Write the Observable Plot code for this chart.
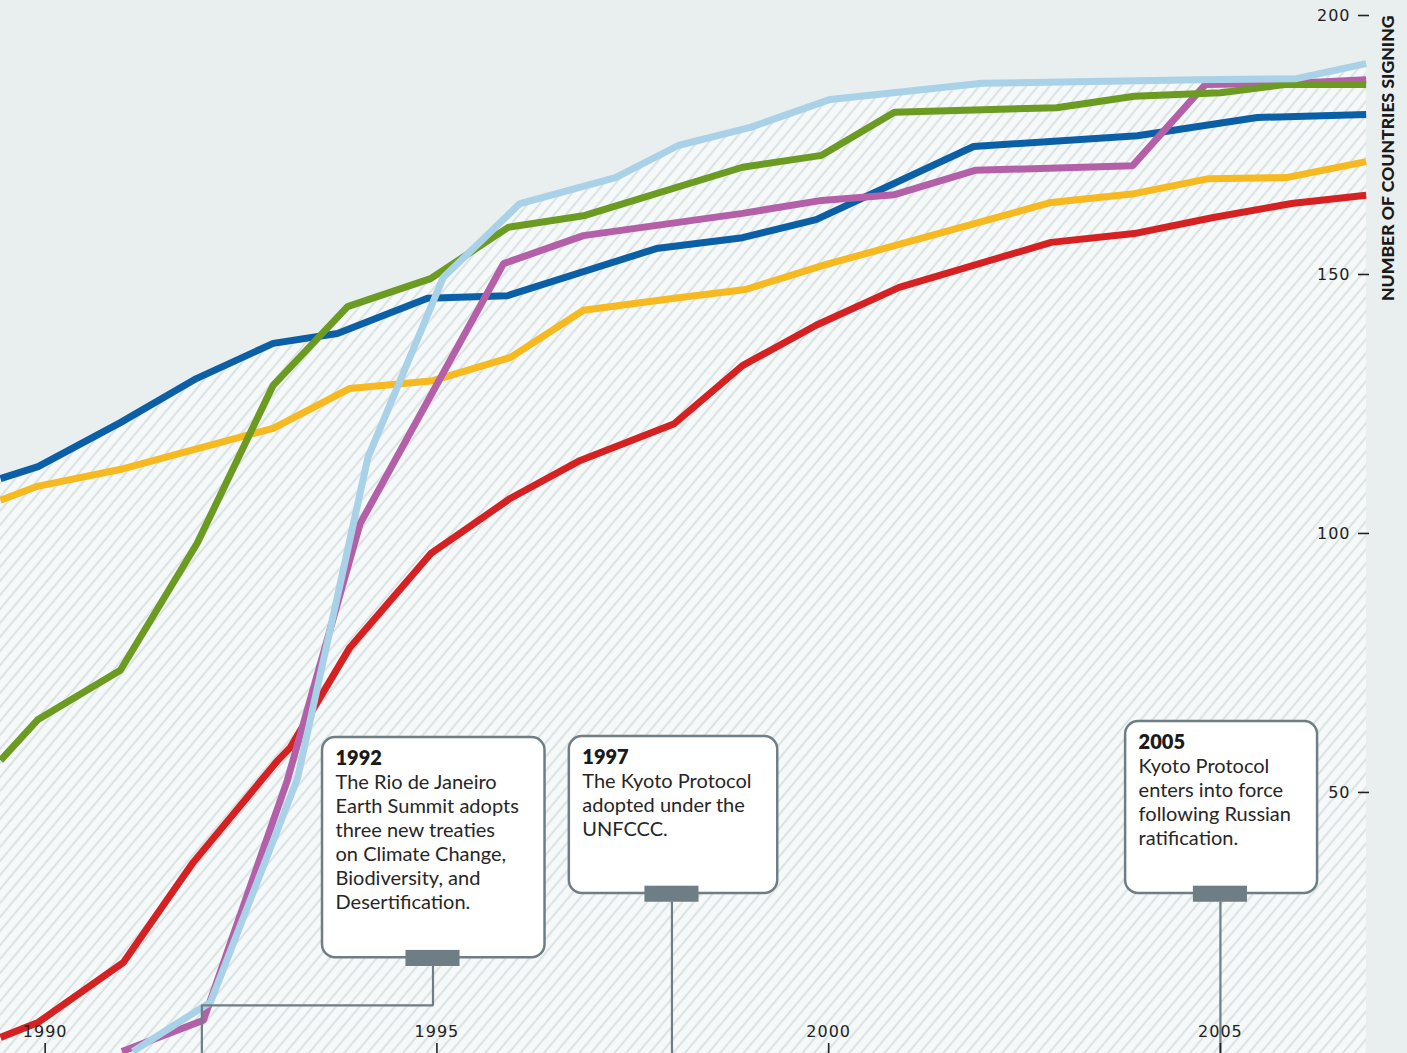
<!DOCTYPE html>
<html>
<head>
<meta charset="utf-8">
<script src="https://cdn.jsdelivr.net/npm/d3@7"></script>
<script src="https://cdn.jsdelivr.net/npm/@observablehq/plot@0.6"></script>
<style>
  html, body { margin: 0; padding: 0; background: #e9eeee; }
  #chart svg { display: block; }
</style>
</head>
<body>
<div id="chart"></div>
<script>
// ---------- data ----------
const xTicks = [1990, 1995, 2000, 2005];
const yTicks = [50, 100, 150, 200];
const yAxisLabel = "NUMBER OF COUNTRIES SIGNING";

const seriesNames  = ["Series A", "Series B", "Series C", "Series D", "Series E", "Series F"];
const seriesColors = ["#d52121", "#f6b920", "#0b5fa6", "#b460a8", "#6b9b21", "#a9d1e8"];

const seriesAYears = [1989.43, 1989.91, 1991.00, 1991.89, 1992.97, 1993.13, 1993.89, 1994.92, 1995.94, 1996.83, 1998.03, 1998.90, 1999.84, 2000.90, 2002.84, 2003.90, 2004.91, 2005.91, 2006.86];
const seriesAValues = [2.7, 5.6, 17.2, 36.5, 56.2, 58.7, 78.0, 96.1, 106.8, 114.1, 121.2, 132.4, 140.2, 147.5, 156.2, 157.9, 161.0, 163.7, 165.3];

const seriesBYears = [1989.43, 1989.90, 1991.00, 1992.91, 1993.89, 1994.95, 1995.94, 1996.87, 1998.03, 1998.94, 1999.96, 2002.84, 2003.90, 2004.85, 2005.84, 2006.86];
const seriesBValues = [106.4, 109.1, 112.5, 120.3, 128.0, 129.5, 134.0, 143.1, 145.4, 147.1, 151.9, 163.9, 165.6, 168.5, 168.7, 171.8];

const seriesCYears = [1989.43, 1989.91, 1990.96, 1991.93, 1992.91, 1993.73, 1994.88, 1995.90, 1997.80, 1998.90, 1999.84, 2001.85, 2003.94, 2005.47, 2006.86];
const seriesCValues = [110.6, 112.9, 121.4, 129.9, 136.7, 138.6, 145.4, 145.9, 155.0, 157.1, 160.6, 174.7, 176.8, 180.3, 180.9];

const seriesDYears = [1990.98, 1992.02, 1993.09, 1994.02, 1995.85, 1996.87, 1998.90, 1999.91, 2000.84, 2001.87, 2003.88, 2004.81, 2005.95, 2006.86];
const seriesDValues = [0, 6.0, 52.3, 101.9, 152.1, 157.5, 161.8, 164.3, 165.4, 170.1, 171.0, 186.7, 186.9, 187.6];

const seriesEYears = [1989.43, 1989.91, 1990.96, 1991.94, 1992.91, 1993.86, 1994.92, 1995.91, 1996.89, 1998.90, 1999.91, 2000.84, 2002.91, 2003.90, 2005.00, 2005.84, 2006.86];
const seriesEValues = [56.2, 64.1, 73.6, 98.1, 128.6, 143.8, 149.2, 159.1, 161.4, 170.7, 173.0, 181.3, 182.2, 184.4, 185.1, 186.7, 186.7];

const seriesFYears = [1991.12, 1992.11, 1993.22, 1994.12, 1995.08, 1996.06, 1997.28, 1998.08, 1999.00, 2000.02, 2001.96, 2004.72, 2005.97, 2006.86];
const seriesFValues = [0, 9.5, 52.7, 114.7, 149.4, 163.7, 168.7, 174.9, 178.4, 183.8, 186.9, 187.6, 187.8, 190.7];

const noteTitles = ["1992", "1997", "2005"];
const noteTexts = [
  "The Rio de Janeiro\nEarth Summit adopts\nthree new treaties\non Climate Change,\nBiodiversity, and\nDesertification.",
  "The Kyoto Protocol\nadopted under the\nUNFCCC.",
  "Kyoto Protocol\nenters into force\nfollowing Russian\nratification."
];
const noteEventYears = [1992.0, 1998.0, 2005.0];

// ---------- layout (annotation boxes, in data units) ----------
const xDomain = [1989.43, 2006.89];
const yDomain = [-0.4, 200];
const noteLayout = [
  {x1: 1993.54, x2: 1996.38, top: 60.6, bottom: 18.1, tab: 1994.95, elbow: 8.9},
  {x1: 1996.69, x2: 1999.35, top: 60.8, bottom: 30.5, tab: 1998.0, elbow: null},
  {x1: 2003.79, x2: 2006.24, top: 63.7, bottom: 30.5, tab: 2005.0, elbow: null}
];

// ---------- build tables ----------
const seriesData = [
  [seriesAYears, seriesAValues],
  [seriesBYears, seriesBValues],
  [seriesCYears, seriesCValues],
  [seriesDYears, seriesDValues],
  [seriesEYears, seriesEValues],
  [seriesFYears, seriesFValues]
];
const table = seriesNames.flatMap((s, k) => seriesData[k][0].map((yr, i) => ({series: s, year: yr, value: seriesData[k][1][i]})));

const notes = noteTitles.map((t, i) => ({title: t, text: noteTexts[i], event: noteEventYears[i], ...noteLayout[i]}));

const connectors = notes.flatMap((n, i) => {
  const tabBottom = n.bottom - 1.7;
  const pts = [{id: i, x: n.tab, y: tabBottom}];
  if (n.elbow != null) {
    pts.push({id: i, x: n.tab, y: n.elbow});
    pts.push({id: i, x: n.event, y: n.elbow});
  }
  pts.push({id: i, x: n.event, y: yDomain[0]});
  return pts;
});

const boxStroke = "#6f7e84";
const textFont = "Lato, 'Open Sans', sans-serif";

const chart = Plot.plot({
  width: 1407,
  height: 1053,
  marginLeft: 0,
  marginRight: 39,
  marginTop: 15,
  marginBottom: 0,
  style: {background: "#e9eeee", fontFamily: "'DejaVu Sans', sans-serif", overflow: "visible"},
  x: {domain: xDomain},
  y: {domain: yDomain},
  color: {domain: seriesNames, range: seriesColors},
  marks: [
    Plot.areaY(table, {x: "year", y1: yDomain[0], y2: "value", z: "series", fill: "url(#hatch)", clip: true}),
    Plot.line(table, {x: "year", y: "value", z: "series", stroke: "series", strokeWidth: 7, strokeLinejoin: "miter", strokeLinecap: "butt", clip: true}),
    Plot.line(connectors, {x: "x", y: "y", z: "id", stroke: boxStroke, strokeWidth: 2.2, strokeLinejoin: "miter"}),
    Plot.rect(notes, {x1: "x1", x2: "x2", y1: "bottom", y2: "top", rx: 13, fill: "white", stroke: boxStroke, strokeWidth: 2.5}),
    Plot.rect(notes, {x1: d => d.tab - 0.345, x2: d => d.tab + 0.345, y1: d => d.bottom - 1.7, y2: d => d.bottom + 1.4, fill: boxStroke}),
    Plot.text(notes, {x: "x1", y: "top", text: "title", dx: 13, dy: 13.5, lineAnchor: "top", textAnchor: "start", fontSize: 20, fontWeight: 800, fontFamily: textFont, fill: "#1b1b1b"}),
    Plot.text(notes, {x: "x1", y: "top", text: "text", dx: 13, dy: 34, lineAnchor: "top", textAnchor: "start", lineHeight: 1.2, fontSize: 20, fontFamily: textFont, fill: "#262626"}),
    Plot.axisX(xTicks, {anchor: "bottom", tickSize: -10, tickPadding: -7, lineAnchor: "bottom", tickFormat: d => String(d), fontSize: 16, label: null, strokeWidth: 1.6, stroke: "#222", fill: "#222"}),
    Plot.axisY(yTicks, {anchor: "right", tickSize: -11, tickPadding: -7, textAnchor: "end", tickFormat: d => String(d), fontSize: 16, label: null, strokeWidth: 1.6, stroke: "#222", fill: "#222"}),
    Plot.text([yAxisLabel], {frameAnchor: "top-right", dx: 20, rotate: -90, textAnchor: "end", lineAnchor: "middle", fontSize: 17.6, fontWeight: 900, fontFamily: textFont, fill: "#1a1a1a"})
  ]
});

// hatch pattern definition for the area under the curves
d3.select(chart).insert("defs", ":first-child").html(
  `<pattern id="hatch" patternUnits="userSpaceOnUse" width="9" height="9" patternTransform="rotate(-50)">
     <rect width="9" height="9" fill="#f5f9f9"></rect>
     <line x1="0" y1="4.5" x2="9" y2="4.5" stroke="#d6dddd" stroke-width="1.7"></line>
   </pattern>`
);
d3.select(chart).selectAll('[aria-label="x-axis tick label"] text, [aria-label="y-axis tick label"] text')
  .style("letter-spacing", "1px");

document.getElementById("chart").appendChild(chart);
</script>
</body>
</html>
